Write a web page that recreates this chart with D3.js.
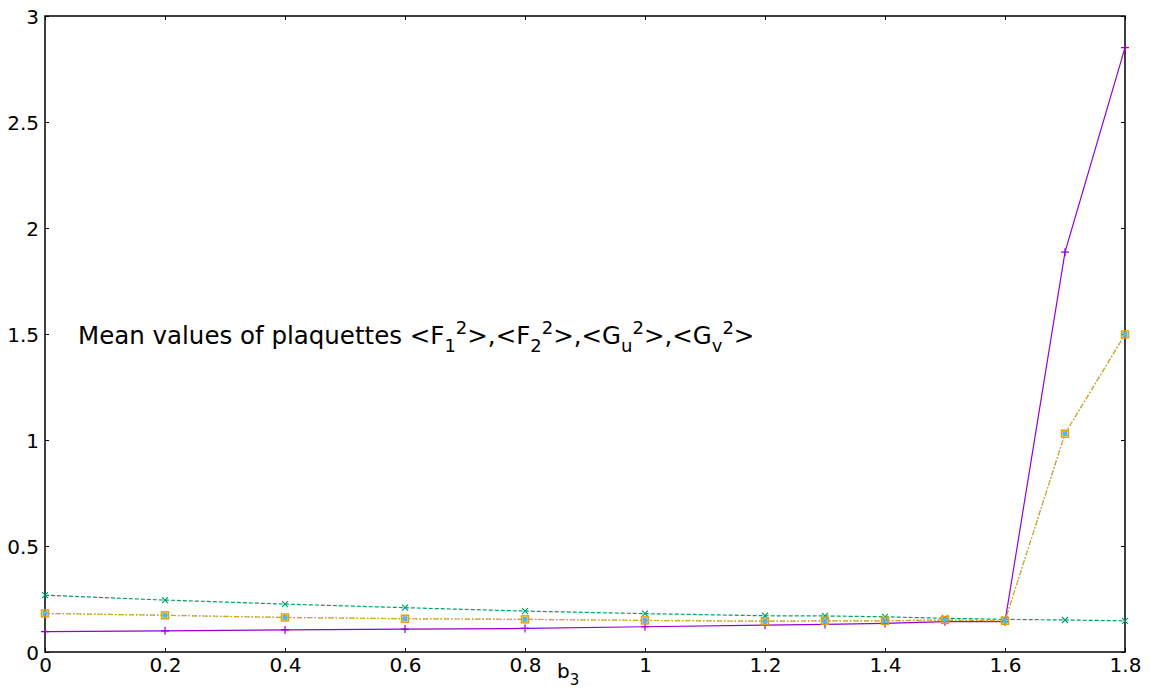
<!DOCTYPE html>
<html>
<head>
<meta charset="utf-8">
<script src="https://cdn.jsdelivr.net/npm/d3@7"></script>
<style>
  html, body { margin: 0; padding: 0; background: #fff; }
  svg { display: block; }
  text { font-family: "DejaVu Sans", sans-serif; fill: #000; }
</style>
</head>
<body>
<svg id="chart" width="1151" height="690"></svg>
<script>
// b3 coupling values
const b3 = [0, 0.2, 0.4, 0.6, 0.8, 1.0, 1.2, 1.3, 1.4, 1.5, 1.6, 1.7, 1.8];

// mean plaquette values for each observable
const meanF1 = [0.096, 0.100, 0.104, 0.108, 0.111, 0.119, 0.127, 0.130, 0.135, 0.143, 0.143, 1.886, 2.851];
const meanF2 = [0.268, 0.245, 0.226, 0.209, 0.193, 0.181, 0.171, 0.170, 0.166, 0.159, 0.154, 0.151, 0.147];
const meanGu = [0.182, 0.173, 0.163, 0.157, 0.154, 0.149, 0.145, 0.147, 0.147, 0.151, 0.147, 1.030, 1.498];
const meanGv = [0.182, 0.173, 0.163, 0.157, 0.154, 0.149, 0.145, 0.147, 0.147, 0.151, 0.147, 1.030, 1.498];

const xTicks = [0, 0.2, 0.4, 0.6, 0.8, 1.0, 1.2, 1.4, 1.6, 1.8];
const yTicks = [0, 0.5, 1, 1.5, 2, 2.5, 3];

const series = [
  { values: meanF1, color: "#9400d3", dash: null,        marker: "plus" },
  { values: meanF2, color: "#009e73", dash: "4,2",       marker: "cross" },
  { values: meanGu, color: "#56b4e9", dash: "1.5,2",     marker: "dot" },
  { values: meanGv, color: "#e69f00", dash: "5,2,1.5,2", marker: "square" }
];

const svg = d3.select("#chart");
const plotLeft = 45, plotRight = 1125, plotTop = 16, plotBottom = 652;

const x = d3.scaleLinear().domain([0, 1.8]).range([plotLeft, plotRight]);
const y = d3.scaleLinear().domain([0, 3]).range([plotBottom, plotTop]);

// frame
svg.append("rect")
  .attr("x", plotLeft).attr("y", plotTop)
  .attr("width", plotRight - plotLeft).attr("height", plotBottom - plotTop)
  .attr("fill", "none").attr("stroke", "#000").attr("stroke-width", 1.5);

// axes with inward ticks, mirrored on opposite sides
const fmt = d => d3.format("~g")(d);
const gx = svg.append("g").attr("transform", `translate(0,${plotBottom})`)
  .call(d3.axisBottom(x).tickValues(xTicks).tickFormat(fmt).tickSizeInner(-4).tickSizeOuter(0).tickPadding(8));
const gxTop = svg.append("g").attr("transform", `translate(0,${plotTop})`)
  .call(d3.axisTop(x).tickValues(xTicks).tickFormat("").tickSizeInner(-4).tickSizeOuter(0));
const gy = svg.append("g").attr("transform", `translate(${plotLeft},0)`)
  .call(d3.axisLeft(y).tickValues(yTicks).tickFormat(fmt).tickSizeInner(-4).tickSizeOuter(0).tickPadding(6));
const gyRight = svg.append("g").attr("transform", `translate(${plotRight},0)`)
  .call(d3.axisRight(y).tickValues(yTicks).tickFormat("").tickSizeInner(-4).tickSizeOuter(0));

[gx, gxTop, gy, gyRight].forEach(g => {
  g.select(".domain").remove();
  g.selectAll(".tick line").attr("stroke", "#000").attr("stroke-width", 1);
  g.selectAll("text").attr("font-size", 20).attr("font-family", "DejaVu Sans, sans-serif").attr("fill", "#000");
});
gx.selectAll("text").attr("dy", "0.71em").attr("y", 6);
gy.selectAll("text").attr("dy", "0.36em");

// x axis label b_3
const xl = svg.append("text").attr("x", 557).attr("y", 678).attr("font-size", 20);
xl.append("tspan").text("b");
xl.append("tspan").attr("font-size", 15).attr("dy", 7).text("3");

// lines
const line = d3.line().x((d, i) => x(b3[i])).y(d => y(d));
series.forEach(s => {
  svg.append("path")
    .datum(s.values)
    .attr("d", line)
    .attr("fill", "none")
    .attr("stroke", s.color)
    .attr("stroke-width", 1.2)
    .attr("stroke-dasharray", s.dash);
});

// markers
series.forEach(s => {
  const g = svg.append("g");
  s.values.forEach((v, i) => {
    const cx = x(b3[i]), cy = y(v);
    if (s.marker === "plus") {
      g.append("path").attr("d", `M${cx - 4},${cy}H${cx + 4}M${cx},${cy - 4}V${cy + 4}`)
        .attr("stroke", s.color).attr("stroke-width", 1.2);
    } else if (s.marker === "cross") {
      g.append("path").attr("d", `M${cx - 3},${cy - 3}L${cx + 3},${cy + 3}M${cx - 3},${cy + 3}L${cx + 3},${cy - 3}`)
        .attr("stroke", s.color).attr("stroke-width", 1.2);
    } else if (s.marker === "dot") {
      g.append("rect").attr("x", cx - 2.5).attr("y", cy - 2.5).attr("width", 5).attr("height", 5)
        .attr("fill", s.color);
    } else if (s.marker === "square") {
      g.append("rect").attr("x", cx - 3.5).attr("y", cy - 3.5).attr("width", 7).attr("height", 7)
        .attr("fill", "none").attr("stroke", s.color).attr("stroke-width", 1.5);
    }
  });
});

// annotation with sub/superscripts
const ann = svg.append("text").attr("x", 78).attr("y", 344).attr("font-size", 24.5);
ann.append("tspan").text("Mean values of plaquettes ");
const terms = [["F", "1"], ["F", "2"], ["G", "u"], ["G", "v"]];
terms.forEach((t, k) => {
  ann.append("tspan").text((k ? "," : "") + "<" + t[0]);
  ann.append("tspan").attr("font-size", 18).attr("dy", 8).text(t[1]);
  ann.append("tspan").attr("font-size", 18).attr("dy", -18).text("2");
  ann.append("tspan").attr("dy", 10).text(">");
});
</script>
</body>
</html>
